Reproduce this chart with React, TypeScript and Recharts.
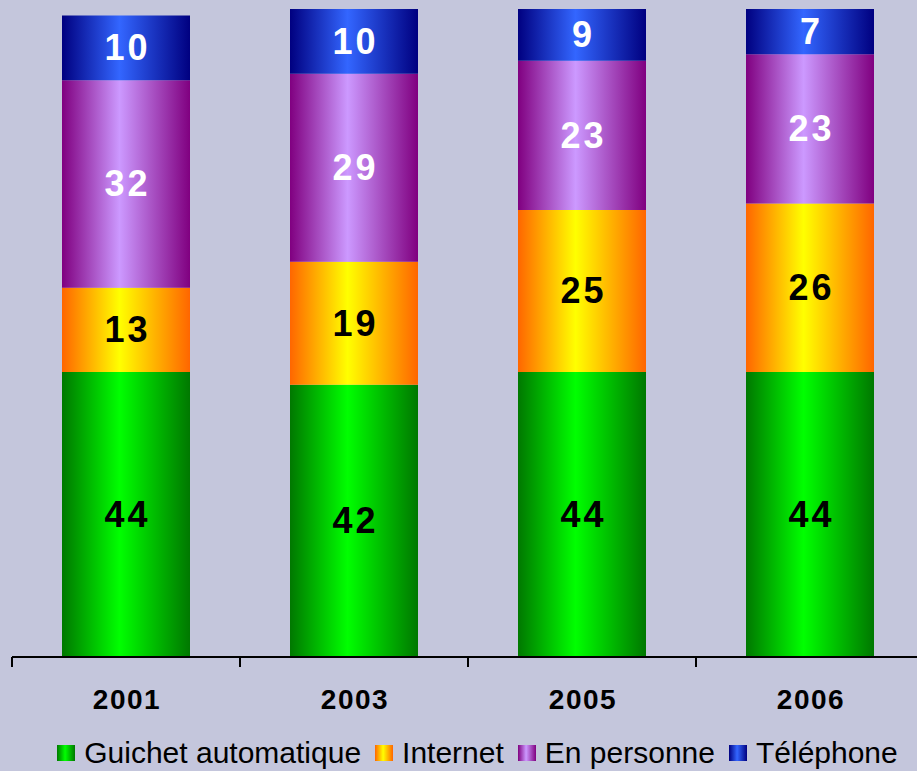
import React from "react";
import { BarChart, Bar, XAxis, YAxis, LabelList } from "recharts";

const years = ["2001", "2003", "2005", "2006"];
const guichet = [44, 42, 44, 44];
const internet = [13, 19, 25, 26];
const personne = [32, 29, 23, 23];
const telephone = [10, 10, 9, 7];

const seriesNames = ["Guichet automatique", "Internet", "En personne", "Téléphone"];
const seriesKeys = ["guichet", "internet", "personne", "telephone"];
const edgeColors = ["#007800", "#ff6600", "#800080", "#000080"];
const centerColors = ["#00ff00", "#ffff00", "#cc99ff", "#3366ff"];
const labelColors = ["#000000", "#000000", "#ffffff", "#ffffff"];

const data = years.map((y, i) => ({
  year: y,
  guichet: guichet[i],
  internet: internet[i],
  personne: personne[i],
  telephone: telephone[i],
}));

const FONT = "'Liberation Sans', Arial, sans-serif";
const BAND = 228;

const Tick = (props: any) => {
  const { x, y, payload } = props;
  return (
    <g>
      <line x1={x - BAND / 2} y1={y - 8} x2={x - BAND / 2} y2={y + 2} stroke="#000" strokeWidth={2} />
      <line x1={x + BAND / 2} y1={y - 8} x2={x + BAND / 2} y2={y + 2} stroke="#000" strokeWidth={2} />
      <text
        x={x + 1}
        y={y + 44}
        textAnchor="middle"
        fontFamily={FONT}
        fontWeight="bold"
        fontSize={28}
        letterSpacing={1.5}
        fill="#000"
      >
        {payload.value}
      </text>
    </g>
  );
};

const BarLabel = (color: string) => (props: any) => {
  const { x, y, width, height, value } = props;
  return (
    <text
      x={x + width / 2 + 1.5}
      y={y + height / 2}
      textAnchor="middle"
      dominantBaseline="central"
      fontFamily={FONT}
      fontWeight="bold"
      fontSize={36}
      letterSpacing={3}
      fill={color}
    >
      {value}
    </text>
  );
};

const LegendBox = () => (
  <div
    style={{
      position: "absolute",
      left: 0,
      top: 735,
      width: 917,
      height: 36,
      display: "flex",
      justifyContent: "center",
      alignItems: "center",
      fontFamily: FONT,
      fontSize: 30,
      color: "#000",
      whiteSpace: "nowrap",
    }}
  >
    <div style={{ display: "flex", alignItems: "center", marginLeft: 38 }}>
      {seriesNames.map((n, i) => (
        <span key={n} style={{ display: "inline-flex", alignItems: "center", marginRight: i < 3 ? 14 : 0 }}>
          <span
            style={{
              display: "inline-block",
              width: 18,
              height: 16,
              marginRight: 9,
              background: `linear-gradient(to right, ${edgeColors[i]}, ${centerColors[i]} 45%, ${edgeColors[i]})`,
            }}
          />
          {n}
        </span>
      ))}
    </div>
  </div>
);

export default function App() {
  return (
    <div
      style={{
        position: "absolute",
        left: 0,
        top: 0,
        width: 917,
        height: 771,
        overflow: "hidden",
        background: "#c4c6dc",
      }}
    >
      <BarChart
        width={924}
        height={771}
        data={data}
        margin={{ top: 9, right: 0, bottom: 54, left: 12 }}
        barCategoryGap={100}
      >
        <defs>
          {seriesKeys.map((k, i) => (
            <linearGradient key={k} id={`g-${k}`} x1="0" y1="0" x2="1" y2="0">
              <stop offset="0%" stopColor={edgeColors[i]} />
              <stop offset="45%" stopColor={centerColors[i]} />
              <stop offset="100%" stopColor={edgeColors[i]} />
            </linearGradient>
          ))}
        </defs>
        <YAxis hide domain={[0, 100]} allowDataOverflow />
        <XAxis
          dataKey="year"
          axisLine={{ stroke: "#000", strokeWidth: 2 }}
          tickLine={false}
          tick={<Tick />}
          height={60}
          interval={0}
        />
        {seriesKeys.map((k, i) => (
          <Bar
            key={k}
            dataKey={k}
            stackId="a"
            name={seriesNames[i]}
            fill={`url(#g-${k})`}
            barSize={128}
            isAnimationActive={false}
          >
            <LabelList dataKey={k} content={BarLabel(labelColors[i])} />
          </Bar>
        ))}
      </BarChart>
      <LegendBox />
    </div>
  );
}
